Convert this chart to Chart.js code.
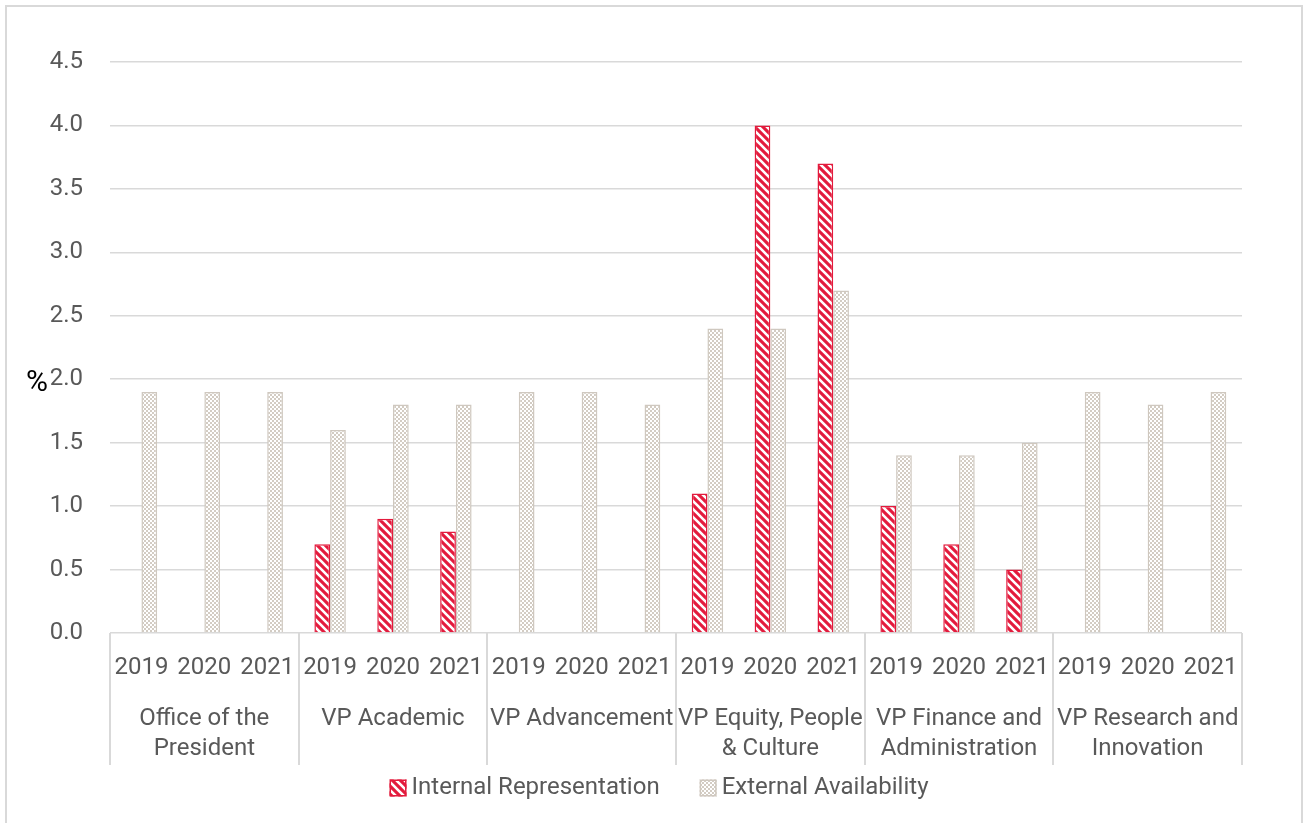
<!DOCTYPE html>
<html>
<head>
<meta charset="utf-8">
<script src="https://cdn.jsdelivr.net/npm/chart.js@4"></script>
<style>
    html, body { margin: 0; padding: 0; background: #fff; overflow: hidden; }
    #frame {
        position: absolute; left: 5px; top: 5px;
        width: 1294px; height: 900px;
        border: 2px solid #d9d9d9;
    }
    #wrap { position: absolute; left: 0; top: 0; width: 1304px; height: 823px; }
</style>
</head>
<body>
<div id="frame"></div>
<div id="wrap"><canvas id="RepresentationChart"></canvas></div>
<script>
const portfolios = [
    ['Office of the', 'President'],
    ['VP Academic'],
    ['VP Advancement'],
    ['VP Equity, People', '& Culture'],
    ['VP Finance and', 'Administration'],
    ['VP Research and', 'Innovation']
];
const years = ['2019', '2020', '2021'];

// one value per portfolio/year, in portfolio order
const internalRep = [null, null, null, 0.7, 0.9, 0.8, null, null, null, 1.1, 4.0, 3.7, 1.0, 0.7, 0.5, null, null, null];
const externalAvail = [1.9, 1.9, 1.9, 1.6, 1.8, 1.8, 1.9, 1.9, 1.8, 2.4, 2.4, 2.7, 1.4, 1.4, 1.5, 1.9, 1.8, 1.9];

const yTicks = [0, 0.5, 1.0, 1.5, 2.0, 2.5, 3.0, 3.5, 4.0, 4.5];

const labelColor = '#595959';
const lineColor = '#d9d9d9';
const redColor = '#e31b3d';
const sandColor = '#cfc8bf';
const fontFamily = "Roboto, 'Open Sans', sans-serif";
const fontSize = 24;

// flat category list: every portfolio gets the three years
const labels = [];
portfolios.forEach(() => years.forEach(y => labels.push(y)));

function stripePattern() {
    var c = document.createElement('canvas');
    c.width = 8; c.height = 8;
    var g = c.getContext('2d');
    g.fillStyle = redColor;
    g.fillRect(0, 0, 8, 8);
    g.strokeStyle = '#ffffff';
    g.lineWidth = 2.6;
    g.beginPath();
    g.moveTo(-8, 0); g.lineTo(8, 16);
    g.moveTo(0, 0); g.lineTo(8, 8);
    g.moveTo(0, -8); g.lineTo(16, 8);
    g.stroke();
    return g.createPattern(c, 'repeat');
}

function checkerPattern() {
    var c = document.createElement('canvas');
    c.width = 4; c.height = 4;
    var g = c.getContext('2d');
    g.fillStyle = '#ffffff';
    g.fillRect(0, 0, 4, 4);
    g.fillStyle = '#d3ccc3';
    g.fillRect(0, 0, 2, 2);
    g.fillRect(2, 2, 2, 2);
    return g.createPattern(c, 'repeat');
}

// portfolio names, separators, the "%" title and the legend row
const groupAxis = {
    id: 'groupAxis',
    afterDraw(chart) {
        const ctx = chart.ctx;
        const area = chart.chartArea;
        const x = chart.scales.x;
        const n = years.length;
        const groupW = (area.right - area.left) / portfolios.length;

        ctx.save();
        ctx.strokeStyle = lineColor;
        ctx.lineWidth = 2;
        for (let i = 0; i <= portfolios.length; i++) {
            const px = Math.round(area.left + i * groupW);
            ctx.beginPath();
            ctx.moveTo(px, area.bottom);
            ctx.lineTo(px, area.bottom + 132);
            ctx.stroke();
        }

        ctx.fillStyle = labelColor;
        ctx.font = fontSize + 'px ' + fontFamily;
        ctx.textAlign = 'center';
        ctx.textBaseline = 'middle';
        portfolios.forEach((lines, i) => {
            const cx = (x.getPixelForValue(i * n) + x.getPixelForValue(i * n + n - 1)) / 2;
            lines.forEach((t, j) => ctx.fillText(t, cx, area.bottom + 86 + j * 30));
        });

        // legend
        const sets = chart.data.datasets;
        const box = 17, gap = 5, spacing = 40;
        ctx.textAlign = 'left';
        const widths = sets.map(d => box + gap + ctx.measureText(d.label).width);
        const total = widths.reduce((a, b) => a + b, 0) + spacing * (sets.length - 1);
        let lx = 659 - total / 2;
        const ly = area.bottom + 155;
        sets.forEach((d, i) => {
            ctx.fillStyle = d.backgroundColor;
            ctx.fillRect(lx, ly - box / 2, box, box);
            ctx.strokeStyle = d.borderColor;
            ctx.lineWidth = 1.5;
            ctx.strokeRect(lx + 0.75, ly - box / 2 + 0.75, box - 1.5, box - 1.5);
            ctx.fillStyle = labelColor;
            ctx.fillText(d.label, lx + box + gap, ly);
            lx += widths[i] + spacing;
        });

        ctx.fillStyle = '#000';
        ctx.font = '30px ' + fontFamily;
        ctx.fillText('%', 26, chart.scales.y.getPixelForValue(1.97));
        ctx.restore();
    }
};

const data = {
    labels: labels,
    datasets: [{
        label: 'Internal Representation',
        data: internalRep,
        backgroundColor: stripePattern(),
        borderColor: redColor,
        borderWidth: 1.5
    }, {
        label: 'External Availability',
        data: externalAvail,
        backgroundColor: checkerPattern(),
        borderColor: sandColor,
        borderWidth: 1.5
    }]
};

const config = {
    type: 'bar',
    data: data,
    options: {
        responsive: false,
        animation: false,
        categoryPercentage: 0.5,
        barPercentage: 1.0,
        layout: { padding: { left: 10, right: 62, top: 62, bottom: 58 } },
        plugins: {
            title: { display: false },
            tooltip: { enabled: false },
            legend: { display: false }
        },
        scales: {
            x: {
                grid: { display: false, drawTicks: false },
                border: { display: false },
                ticks: {
                    color: labelColor,
                    font: { family: fontFamily, size: fontSize },
                    padding: 21,
                    maxRotation: 0,
                    autoSkip: false
                },
                afterFit: scale => { scale.height = 132; }
            },
            y: {
                min: 0,
                max: 4.5,
                afterBuildTicks: scale => { scale.ticks = yTicks.map(v => ({ value: v })); },
                grid: { color: lineColor, lineWidth: 1.5, drawTicks: false },
                border: { display: false },
                ticks: {
                    color: labelColor,
                    font: { family: fontFamily, size: fontSize },
                    padding: 27,
                    callback: v => Number(v).toFixed(1)
                },
                afterFit: scale => { scale.width = 100; }
            }
        }
    },
    plugins: [groupAxis]
};

const canvas = document.getElementById('RepresentationChart');
canvas.width = 1304;
canvas.height = 823;
new Chart(canvas, config);
</script>
</body>
</html>
